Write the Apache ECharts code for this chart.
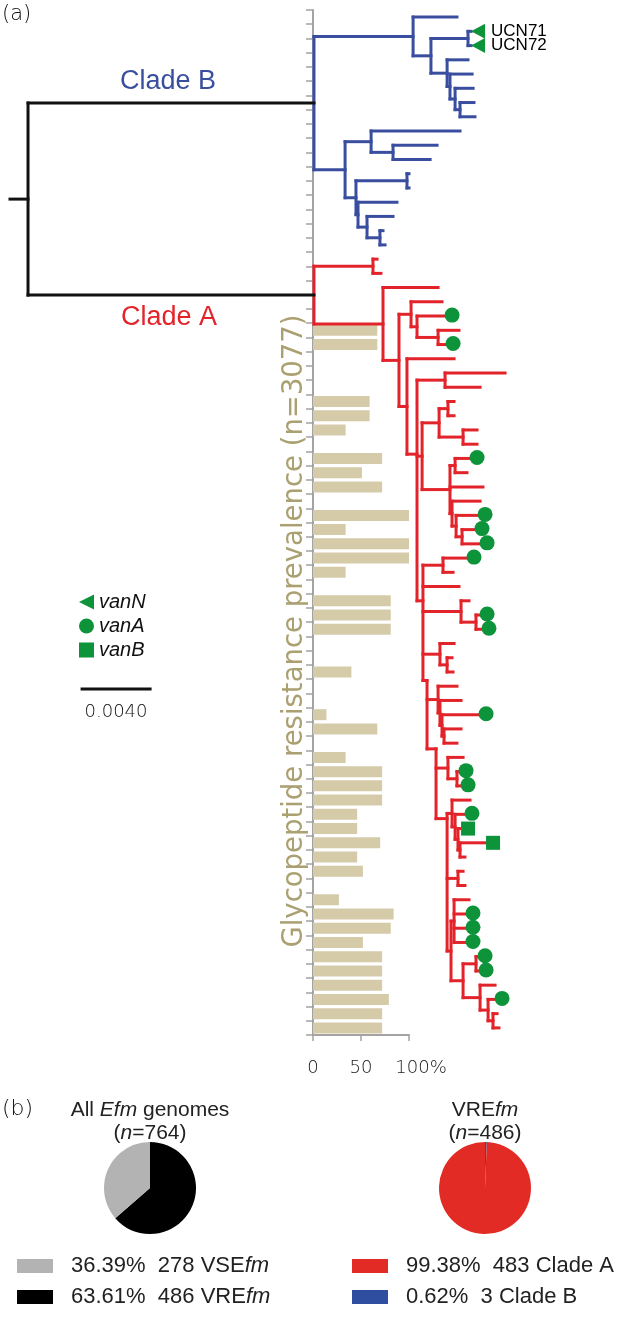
<!DOCTYPE html>
<html><head><meta charset="utf-8">
<script src="https://cdn.jsdelivr.net/npm/echarts@6/dist/echarts.min.js"></script>
<style>html,body{margin:0;padding:0;background:#fff}#c{width:632px;height:1317px}</style>
</head><body><div id="c"></div>
<script>
// ================= DATA =================
const rowCount = 72;                       // tips of the tree, top to bottom
// glycopeptide resistance prevalence (%) per tip row (null = no bar)
const prevalence = [
  null,null,null,null,null,null,null,null,null,null,null,null,null,null,null,null,null,null,null,null,null,null,
  67,67,null,null,null,59,59,34,null,72,51,72,null,100,34,100,100,34,null,81,81,81,null,null,40,null,null,14,
  67,null,34,72,72,72,46,46,70,46,52,null,27,84,81,52,72,72,72,79,72,72
];
const prevTicks = [0, 50, 100];

// tree: tip = [depth, row]; internal node = [depth, [children], optional attach row]
// depth in units of 0.0001 substitutions/site from the root stub
const rootDepth = 10.6;
const cladeB = [178.8, [
  [237.1, [[262.9, 0], [247.6, [[269.4, [[271.2, 1], [271.2, 2]]], [257.1, [[269.4, 3], [258.8, [[271.8, 4], [261.8, [[272.4, 5], [264.7, [[272.9, 6], [273.5, 7]]]]]]]]]]]]],
  [197.1, [[212.4, [[264.7, 8], [225.3, [[251.2, 9], [247.1, 10]]]]],
           [203.5, [[233.5, [[234.7, 11], [234.7, 12]]], [204.7, [[227.6, 13], [210.0, [[225.3, 14], [217.6, [[219.4, 15], [220.6, 16]]]]]]]]]]]
]];
const redN7 = [259.4, [
  [261.2, [[270.0, 62], [268.8, 63], [268.8, 64], [268.8, 65]]],
  [266.5, [[274.1, [[275.9, 66], [276.5, 67]]], [276.5, [[285.3, 68], [281.2, [[285.9, 69], [284.1, [[286.5, 70], [287.6, 71]]]]]]]]]
], 65.6];
const redN6 = [257.1, [
  [260.0, [[270.6, 55], [261.8, [[268.2, 56], [263.5, [[265.9, 57], [264.7, [[280.6, 58], [267.6, 59]]]]]]]]],
  [263.5, [[266.5, 60], [267.6, 61]]],
  redN7
], 56.3];
const redN5 = [250.6, [
  [257.6, [[266.5, 52], [262.9, [[264.7, 53], [265.9, 54]]]]],
  redN6
], 51.4];
const redN4 = [245.3, [
  [251.8, [[262.9, 47], [252.9, [[265.3, 48], [254.1, [[276.5, 49], [255.3, [[265.3, 50], [262.9, 51]]]]]]]]],
  redN5
], 46.6];
const redN3 = [242.9, [
  [254.7, [[269.4, 38], [260.6, 39]]],
  [264.1, 40],
  [265.3, [[270.0, 41], [274.1, [[277.1, 42], [278.2, 43]]]]],
  [252.9, [[261.2, 44], [257.1, [[260.0, 45], [260.6, 46]]]]],
  redN4
], 41];
const redN1 = [239.4, [
  [255.9, [[291.2, 25], [276.5, 26]]],
  [242.4, [
    [252.4, [[257.6, [[261.2, 27], [261.2, 28]]], [266.5, [[274.7, 29], [274.7, 30]]]]],
    [258.8, [[261.8, [[271.2, 31], [268.8, 32]]], [278.2, 33], [260.0, [[276.5, 34], [262.4, [[275.9, 35], [265.9, [[274.1, 36], [277.1, 37]]]]]]]]]
  ]],
  redN3
], 30.7];
const cladeA = [178.8, [
  [213.5, [[215.9, 17], [218.2, 18]]],
  [219.4, [
    [251.8, 19],
    [228.8, [
      [235.9, [[254.1, 20], [239.4, [[256.5, 21], [251.8, [[264.1, 22], [257.1, 23]]]]]]],
      [233.5, [[261.2, 24], redN1]]
    ]]
  ]]
]];
// resistance genes at tips (rows)
const vanNRows = [1, 2];
const vanARows = [21, 23, 31, 35, 36, 37, 38, 42, 43, 49, 53, 54, 56, 63, 64, 65, 66, 67, 69];
const vanBRows = [57, 58];
const tipNames = {1: 'UCN71', 2: 'UCN72'};
const scaleBar = {value: 0.0040, unit: 0.0001, start: 42.4, row: 47.2};

// pies
const allEfm = [{name: 'VREfm', value: 486}, {name: 'VSEfm', value: 278}];
const vreEfm = [{name: 'Clade B', value: 3}, {name: 'Clade A', value: 483}];

// ================= STYLE =================
const BLUE = '#3a4e9f', RED = '#e3232a', GREEN = '#0d9339', BLACK = '#111';
const treeColors = [BLACK, BLUE, RED];
const AXIS = '#a3a3a3';
const BAR = '#d5cba9';
const LIGHT = '"DejaVu Sans"';
const SANS = 'Liberation Sans';

// ================= TREE LAYOUT =================
const segs = [];
const tipDepth = {};
function build(node, parentDepth, edgeC, subC) {
  const d = node[0];
  let y;
  if (typeof node[1] === 'number') { y = node[1]; tipDepth[y] = d; }
  else {
    const ys = node[1].map(ch => build(ch, d, subC, subC));
    const y0 = ys[0], y1 = ys[ys.length - 1];
    y = node[2] !== undefined ? node[2] : (y0 + y1) / 2;
    segs.push([d, Math.min(y0, y), d, Math.max(y1, y), subC]);
  }
  segs.push([parentDepth, y, d, y, edgeC]);
  return y;
}
const yB = build(cladeB, rootDepth, 0, 1);
const yA = build(cladeA, rootDepth, 0, 2);
segs.push([rootDepth, yB, rootDepth, yA, 0]);
segs.push([0, (yA + yB) / 2, rootDepth, (yA + yB) / 2, 0]);
segs.push([scaleBar.start, scaleBar.row, scaleBar.start + scaleBar.value / scaleBar.unit, scaleBar.row, 0]);

const rowNames = Array.from({length: rowCount}, (_, i) => String(i + 1));
const markerData = rows => rows.map(r => [tipDepth[r], r]);

function pct(list, name) {
  const tot = list.reduce((s, d) => s + d.value, 0);
  const it = list.find(d => d.name === name);
  return {p: (it.value / tot * 100).toFixed(2), v: it.value};
}
function legendFmt(list) {
  return name => {
    const o = pct(list, name);
    if (/fm$/.test(name)) return '{t|' + o.p + '%  ' + o.v + ' ' + name.slice(0, -2) + '}{i|fm}';
    return '{t|' + o.p + '%  ' + o.v + ' ' + name + '}';
  };
}
const legRich = {
  t: {fontSize: 22, lineHeight: 20, fontFamily: SANS, color: '#222', padding: [0, 0, 0, 13]},
  i: {fontSize: 22, lineHeight: 20, fontFamily: SANS, fontStyle: 'italic', color: '#222'}
};
const triLeft = 'path://M0,5L10,0L10,10Z';
const pieLegend = (names, left, list) => ({
  data: names, orient: 'vertical', left: left, top: 1255, height: 80, padding: 0,
  selectedMode: false, icon: 'rect', itemWidth: 36, itemHeight: 14, itemGap: 9,
  formatter: legendFmt(list), textStyle: {rich: legRich}
});
const titleRich = {
  a: {fontSize: 21, fontFamily: SANS, fill: '#222', color: '#222'},
  i: {fontSize: 21, fontFamily: SANS, fontStyle: 'italic', fill: '#222', color: '#222'}
};

const chart = echarts.init(document.getElementById('c'));
chart.setOption({
  animation: false,
  grid: [
    {left: 313, top: 10, width: 96, height: 1025},
    {left: 10, top: 10, width: 500, height: 1025}
  ],
  xAxis: [
    {gridIndex: 0, type: 'value', min: prevTicks[0], max: prevTicks[2], interval: prevTicks[1] - prevTicks[0],
     axisLine: {show: true, lineStyle: {color: AXIS, width: 2}},
     axisTick: {show: true, length: 6, lineStyle: {color: AXIS, width: 1.5}},
     splitLine: {show: false},
     axisLabel: {margin: 24, fontSize: 18, fontFamily: LIGHT, fontWeight: 200, color: '#222',
       formatter: v => v === 100 ? '{p|100%}' : String(v),
       rich: {p: {fontSize: 18, fontFamily: LIGHT, fontWeight: 200, color: '#222', padding: [0, 0, 0, 24]}}}},
    {gridIndex: 1, type: 'value', min: 0, max: 294.1, show: false}
  ],
  yAxis: [
    {gridIndex: 0, type: 'category', data: rowNames, inverse: true,
     axisLine: {show: true, lineStyle: {color: AXIS, width: 2}},
     axisTick: {show: true, interval: 0, length: 7, lineStyle: {color: AXIS, width: 1.5}},
     axisLabel: {show: false}, splitLine: {show: false}},
    {gridIndex: 1, type: 'value', inverse: true, min: -0.5, max: rowCount - 0.5, show: false}
  ],
  legend: [
    {data: [{name: 'vanN', icon: triLeft}, 'vanA', 'vanB'], orient: 'vertical', left: 74, top: 587, selectedMode: false,
     itemWidth: 15, itemHeight: 15, itemGap: 4,
     textStyle: {fontSize: 20, lineHeight: 20, fontStyle: 'italic', fontFamily: SANS, color: '#111'}},
    pieLegend(['VSEfm', 'VREfm'], 17, allEfm),
    pieLegend(['Clade A', 'Clade B'], 352, vreEfm)
  ],
  series: [
    {type: 'bar', xAxisIndex: 0, yAxisIndex: 0, data: prevalence, barWidth: 11,
     itemStyle: {color: BAR}, silent: true, z: 1},
    {type: 'custom', xAxisIndex: 1, yAxisIndex: 1, data: segs, silent: true, z: 3,
     encode: {x: [0, 2], y: [1, 3]},
     renderItem: (params, api) => {
       const p1 = api.coord([api.value(0), api.value(1)]);
       const p2 = api.coord([api.value(2), api.value(3)]);
       const c = api.value(4);
       return {type: 'line', shape: {x1: p1[0], y1: p1[1], x2: p2[0], y2: p2[1]},
               style: {stroke: treeColors[c], lineWidth: 3, lineCap: 'square', fill: null}};
     }},
    {name: 'vanN', type: 'scatter', xAxisIndex: 1, yAxisIndex: 1, data: markerData(vanNRows),
     symbol: triLeft, symbolSize: [14, 15], symbolOffset: [7, 0], z: 5, silent: true,
     itemStyle: {color: GREEN, opacity: 1},
     label: {show: true, position: 'right', distance: 6, formatter: p => tipNames[p.value[1]] || '',
             fontSize: 17, fontFamily: SANS, color: '#000'}},
    {name: 'vanA', type: 'scatter', xAxisIndex: 1, yAxisIndex: 1, data: markerData(vanARows),
     symbol: 'circle', symbolSize: 15, symbolOffset: [6, -1], z: 5, silent: true, itemStyle: {color: GREEN, opacity: 1}},
    {name: 'vanB', type: 'scatter', xAxisIndex: 1, yAxisIndex: 1, data: markerData(vanBRows),
     symbol: 'rect', symbolSize: 14, symbolOffset: [6, 0], z: 5, silent: true, itemStyle: {color: GREEN, opacity: 1}},
    {type: 'pie', center: [150, 1188], radius: 46, startAngle: 90, clockwise: true, data: allEfm,
     label: {show: false}, labelLine: {show: false}, silent: true,
     color: ['#000000', '#b3b3b3']},
    {type: 'pie', center: [485, 1188], radius: 46, startAngle: 90, clockwise: true, data: vreEfm,
     label: {show: false}, labelLine: {show: false}, silent: true,
     color: ['#2f4ea0', '#e32b26']}
  ],
  graphic: [
    {type: 'text', left: 2, top: 4, style: {text: '(a)', font: '200 21px ' + LIGHT, fill: '#111'}},
    {type: 'text', x: 168, y: 82, style: {text: 'Clade B', font: '27px ' + SANS, fill: BLUE, textAlign: 'center', textVerticalAlign: 'middle'}},
    {type: 'text', x: 169, y: 318, style: {text: 'Clade A', font: '27px ' + SANS, fill: RED, textAlign: 'center', textVerticalAlign: 'middle'}},
    {type: 'text', x: 295, y: 631, rotation: Math.PI / 2,
     style: {text: 'Glycopeptide resistance prevalence (n=3077)', font: '27.5px ' + LIGHT, fill: '#aba071', textAlign: 'center', textVerticalAlign: 'middle'}},
    {type: 'text', x: 116, y: 712, style: {text: '0.0040', font: '200 18px ' + LIGHT, fill: '#111', textAlign: 'center', textVerticalAlign: 'middle'}},
    {type: 'text', left: 2, top: 1098, style: {text: '(b)', font: '200 22px ' + LIGHT, fill: '#111'}},
    {type: 'text', x: 150, y: 1110, style: {text: '{a|All }{i|Efm}{a| genomes}', textAlign: 'center', textVerticalAlign: 'middle', rich: titleRich}},
    {type: 'text', x: 150, y: 1133, style: {text: '{a|(}{i|n}{a|=764)}', textAlign: 'center', textVerticalAlign: 'middle', rich: titleRich}},
    {type: 'text', x: 485, y: 1110, style: {text: '{a|VRE}{i|fm}', textAlign: 'center', textVerticalAlign: 'middle', rich: titleRich}},
    {type: 'text', x: 485, y: 1133, style: {text: '{a|(}{i|n}{a|=486)}', textAlign: 'center', textVerticalAlign: 'middle', rich: titleRich}}
  ]
});
</script>
</body></html>
